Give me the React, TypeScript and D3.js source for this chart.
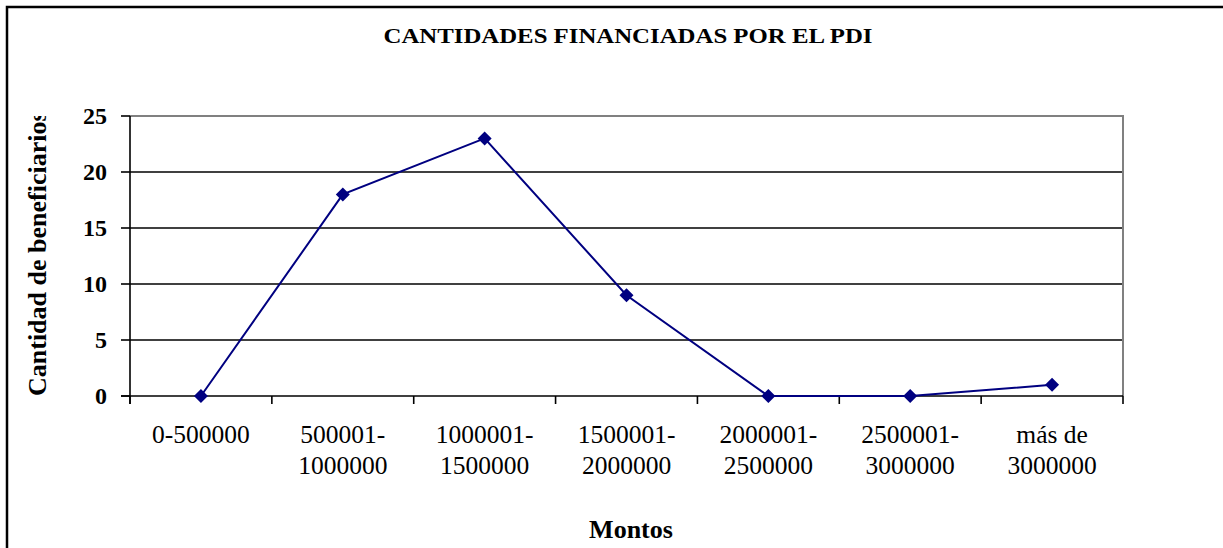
import React from "react";
import * as d3 from "d3";

const categories: string[][] = [
  ["0-500000"],
  ["500001-", "1000000"],
  ["1000001-", "1500000"],
  ["1500001-", "2000000"],
  ["2000001-", "2500000"],
  ["2500001-", "3000000"],
  ["más de", "3000000"],
];
const values: number[] = [0, 18, 23, 9, 0, 0, 1];
const yTicks: number[] = [0, 5, 10, 15, 20, 25];

const title = "CANTIDADES FINANCIADAS POR EL PDI";
const xTitle = "Montos";
const yTitle = "Cantidad de beneficiarios";

const W = 1223;
const H = 548;
const plot = { left: 130, right: 1123, top: 116, bottom: 396 };
const FONT = "'Liberation Serif', 'Times New Roman', serif";

export default function App() {
  const keys = categories.map((c) => c.join(" "));
  const x = d3.scaleBand<string>().domain(keys).range([plot.left, plot.right]).paddingInner(0).paddingOuter(0);
  const y = d3.scaleLinear().domain([0, 25]).range([plot.bottom, plot.top]);
  const cx = (i: number) => (x(keys[i]) as number) + x.bandwidth() / 2;

  const line = d3
    .line<number>()
    .x((_, i) => cx(i))
    .y((d) => y(d));

  const diamond = (px: number, py: number, r: number) =>
    `M${px},${py - r}L${px + r},${py}L${px},${py + r}L${px - r},${py}Z`;

  const tickXs = keys.map((k) => x(k) as number).concat([plot.right]);

  return (
    <svg
      width={W}
      height={H}
      style={{ position: "absolute", left: 0, top: 0, background: "#fff" }}
      fontFamily={FONT}
    >
      <defs>
        <clipPath id="yclip">
          <rect x={0} y={plot.top} width={80} height={H - plot.top} />
        </clipPath>
      </defs>
      <rect x={0} y={0} width={W} height={H} fill="#fff" />
      {/* outer frame */}
      <rect x={7} y={7} width={W + 50} height={H + 50} fill="none" stroke="#000" strokeWidth={2.5} />

      {/* title */}
      <text x={628} y={43} textAnchor="middle" fontSize={22} fontWeight="bold" textLength={489} lengthAdjust="spacingAndGlyphs">
        {title}
      </text>

      {/* gridlines */}
      {yTicks
        .filter((t) => t > 0 && t < 25)
        .map((t) => (
          <line key={t} x1={plot.left} x2={plot.right} y1={y(t)} y2={y(t)} stroke="#000" strokeWidth={1.6} />
        ))}
      {/* plot border top & right in gray */}
      <line x1={plot.left} x2={plot.right} y1={plot.top} y2={plot.top} stroke="#808080" strokeWidth={2} />
      <line x1={plot.right} x2={plot.right} y1={plot.top - 1} y2={plot.bottom} stroke="#808080" strokeWidth={2} />

      {/* y axis */}
      <line x1={plot.left} x2={plot.left} y1={plot.top} y2={plot.bottom + 8} stroke="#000" strokeWidth={1.6} />
      {yTicks.map((t) => (
        <g key={t}>
          <line x1={plot.left - 9} x2={plot.left} y1={y(t)} y2={y(t)} stroke="#000" strokeWidth={1.6} />
          <text x={107} y={y(t)} dy="0.34em" textAnchor="end" fontSize={24} fontWeight="bold">
            {t}
          </text>
        </g>
      ))}

      {/* x axis */}
      <line x1={plot.left - 9} x2={plot.right} y1={plot.bottom} y2={plot.bottom} stroke="#000" strokeWidth={1.6} />
      {tickXs.map((tx, i) => (
        <line key={i} x1={tx} x2={tx} y1={plot.bottom} y2={plot.bottom + 8} stroke="#000" strokeWidth={1.6} />
      ))}
      {categories.map((lines, i) => (
        <text key={i} x={cx(i)} textAnchor="middle" fontSize={25.5}>
          {lines.map((l, j) => (
            <tspan key={j} x={cx(i)} y={443 + j * 31}>
              {l}
            </tspan>
          ))}
        </text>
      ))}

      {/* axis titles */}
      <text x={631} y={538} textAnchor="middle" fontSize={26} fontWeight="bold">
        {xTitle}
      </text>
      <g clipPath="url(#yclip)">
        <text
          transform={`translate(46,396) rotate(-90)`}
          textAnchor="start"
          fontSize={26}
          fontWeight="bold"
        >
          {yTitle}
        </text>
      </g>

      {/* series */}
      <path d={line(values) || ""} fill="none" stroke="#000080" strokeWidth={2} />
      {values.map((v, i) => (
        <path key={i} d={diamond(cx(i), y(v), 7)} fill="#000080" />
      ))}
    </svg>
  );
}
